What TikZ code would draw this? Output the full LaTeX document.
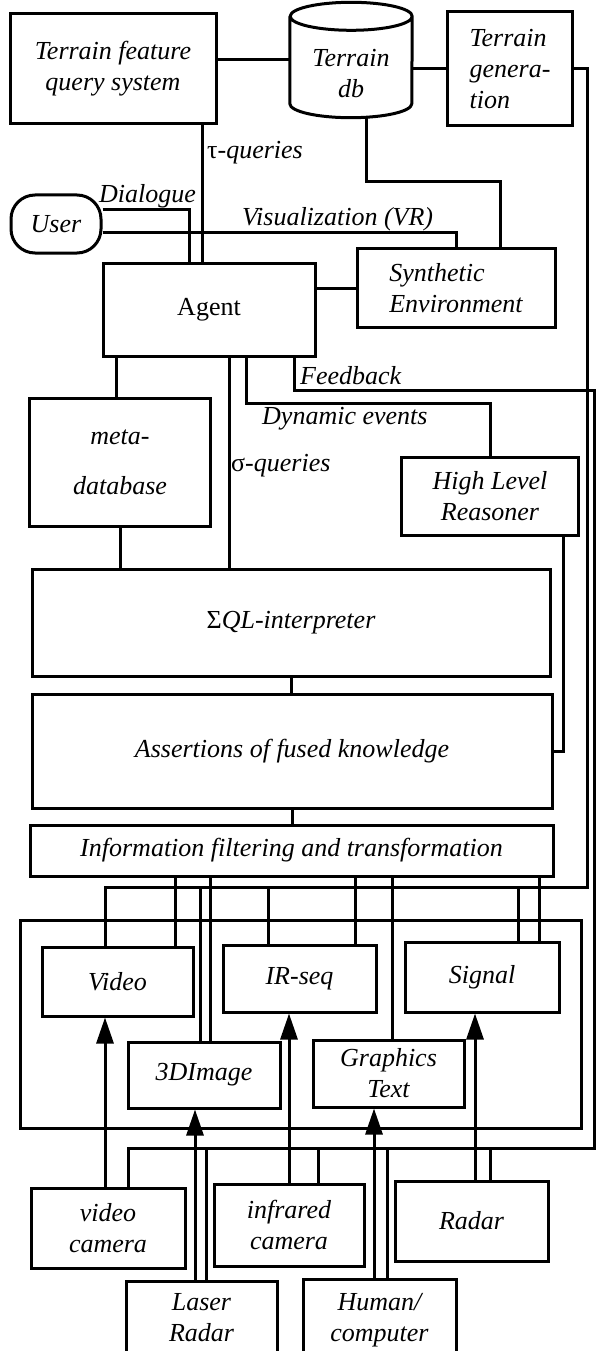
\documentclass[tikz,border=0pt]{standalone}
\usepackage{fontspec}
\setmainfont{Liberation Serif}
\usetikzlibrary{arrows.meta}

\newcommand\figfont{\fontsize{26}{31}\selectfont}

\tikzset{
  blk/.style={draw, line width=3pt, inner sep=0pt, align=center, font=\figfont\itshape},
  lbl/.style={inner sep=0pt, font=\figfont\itshape},
  bus/.style={line width=3pt},
  feed/.style={line width=3pt, -{Triangle[length=26pt,width=17pt]}},
}

\begin{document}
\begin{tikzpicture}[x=1pt, y=-1pt]
\useasboundingbox (0,0) rectangle (598,1351);
\clip (0,0) rectangle (598,1351);

% terrain, user and agent level
\node[blk, minimum width=206, minimum height=110] (tfqs) at (113,69) {Terrain feature\\query system};
\node[inner sep=0pt, minimum width=122, minimum height=115] (tdb) at (351,60) {};
\node[lbl, align=center] (tdbtxt) at (351,74) {Terrain\\db};
\node[blk, align=left, minimum width=125, minimum height=114] (tgen) at (510,69) {Terrain\\genera-\\tion};
\node[blk, rounded corners=24pt, minimum width=90, minimum height=58] (user) at (56,224) {User};
\node[blk, font=\figfont\upshape, minimum width=212, minimum height=93] (agent) at (209,310) {Agent};
\node[blk, align=left, minimum width=198, minimum height=79] (synenv) at (456,288) {Synthetic\\Environment};

% database drum
\draw[bus] ([yshift=-14pt]tdb.north west) -- ([yshift=14pt]tdb.south west)
  arc[start angle=180, end angle=360, x radius=61pt, y radius=14pt]
  -- ([yshift=-14pt]tdb.north east)
  arc[start angle=0, end angle=360, x radius=61pt, y radius=14pt];

% reasoning and fusion
\node[blk, minimum width=181, minimum height=128] (metadb) at (120,462) {meta-\\[19pt]database};
\node[blk, minimum width=177, minimum height=78] (hlr) at (490,496) {High Level\\Reasoner};
\node[blk, minimum width=518, minimum height=107] (sql) at (291,622.5) {{\upshape Σ}QL-interpreter};
\node[blk, minimum width=520, minimum height=114] (fused) at (292,751) {Assertions of fused knowledge};
\node[blk, minimum width=523, minimum height=51] (ift) at (291.5,850.5) {Information filtering and transformation};

% sensor data and sensors
\node[draw, line width=3pt, minimum width=561, minimum height=208] (grp) at (300.5,1024) {};
\node[blk, minimum width=151, minimum height=69] (video) at (117.5,981.5) {Video};
\node[blk, minimum width=153, minimum height=67] (irseq) at (299.5,978.5) {IR-seq};
\node[blk, minimum width=154, minimum height=70] (signal) at (482,977) {Signal};
\node[blk, minimum width=152, minimum height=66] (img3d) at (204,1075) {3DImage};
\node[blk, minimum width=151, minimum height=67] (gtext) at (388.5,1073.5) {Graphics\\Text};
\node[blk, minimum width=154, minimum height=80] (vcam) at (108,1228) {video\\camera};
\node[blk, minimum width=150, minimum height=82] (ircam) at (289,1225) {infrared\\camera};
\node[blk, minimum width=153, minimum height=80] (radar) at (471.5,1221) {Radar};
\node[blk, minimum width=151, minimum height=74] (lradar) at (201.5,1318) {Laser\\Radar};
\node[blk, minimum width=153, minimum height=82] (hcomp) at (379.5,1320) {Human/\\computer};

% link labels
\node[lbl, anchor=west] (tq) at (207,153) {{\upshape τ}-queries};
\node[lbl, anchor=west] (dlg) at (99,196) {Dialogue};
\node[lbl, anchor=west] (vis) at (242,219) {Visualization (VR)};
\node[lbl, anchor=west] (fb) at (300,376) {Feedback};
\node[lbl, anchor=west] (dyn) at (262,419) {Dynamic events};
\node[lbl, anchor=west] (sq) at (231,466) {{\upshape σ}-queries};

\coordinate (tgturn) at (587,887);
\coordinate (fbtop) at (594,390);
\coordinate (fbturn) at (594,1148);

% top links
\draw[bus] (tdb.west) -- (tdb.west -| tfqs.east);
\draw[bus] (tgen.west) -- (tgen.west -| tdb.east);
\draw[bus] ([xshift=89pt]tfqs.south) -- ([xshift=89pt]tfqs.south |- agent.north);
\draw[bus] ([yshift=15pt]user.east) -| ([xshift=-20pt]agent.north);
\draw[bus] ([yshift=-8pt]user.east) -| (synenv.north);
\draw[bus] ([xshift=15pt]tdb.south) -- ++(0,64) -| ([xshift=44pt]synenv.north);
\draw[bus] (synenv.west) -- (synenv.west -| agent.east);

% below the agent
\draw[bus] ([xshift=-93pt]agent.south) -- ([xshift=-93pt]agent.south |- metadb.north);
\draw[bus] ([xshift=20pt]agent.south) -- ([xshift=20pt]agent.south |- sql.north);
\draw[bus] ([xshift=37pt]agent.south) -- ++(0,45) -| (hlr.north);
\draw[bus] ([xshift=85pt]agent.south) |- (fbtop) -- (fbturn) -| ([xshift=20pt]vcam.north);
\draw[bus] (metadb.south) -- (metadb.south |- sql.north);
\draw[bus] ([xshift=73pt]hlr.south) |- (fused.east);
\draw[bus] (sql.south) -- (sql.south |- fused.north);
\draw[bus] (fused.south) -- (fused.south |- ift.north);

% terrain generation feed
\draw[bus] (tgen.east) -| (tgturn) -| ([xshift=-12.5pt]video.north);
\foreach \n/\dx in {img3d/-4, irseq/-31.5, signal/36}
  \draw[bus] ([xshift=\dx pt]\n.north) -- ([xshift=\dx pt]\n.north |- tgturn);

% filter outputs
\foreach \n/\dx in {video/57.5, img3d/6, irseq/55.5, gtext/3.5, signal/57}
  \draw[bus] ([xshift=\dx pt]\n.north) -- ([xshift=\dx pt]\n.north |- ift.south);

% feedback to the sensors
\foreach \n/\dx in {lradar/4.5, ircam/29, hcomp/7.5, radar/18.5}
  \draw[bus] ([xshift=\dx pt]\n.north) -- ([xshift=\dx pt]\n.north |- fbturn);

% sensor outputs
\foreach \s/\dx/\t in {vcam/-3/video, lradar/-6.5/img3d, ircam/0/irseq, hcomp/-5.5/gtext, radar/3.5/signal}
  \draw[feed] ([xshift=\dx pt]\s.north) -- ([xshift=\dx pt]\s.north |- \t.south);

\end{tikzpicture}
\end{document}
